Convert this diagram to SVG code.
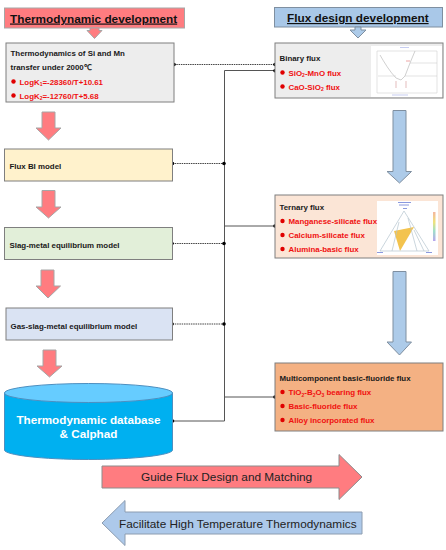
<svg xmlns="http://www.w3.org/2000/svg" width="446" height="550" viewBox="0 0 446 550">
<defs><linearGradient id="bar" x1="0" y1="0" x2="0" y2="1"><stop offset="0" stop-color="#f4b6a0"/><stop offset=".35" stop-color="#f0e27a"/><stop offset=".65" stop-color="#9fe0c8"/><stop offset="1" stop-color="#b9a6ee"/></linearGradient></defs>
<style>
.b{stroke:#7f7f7f;stroke-width:1}
.r{fill:#ff7c80;stroke:#a6a6a6;stroke-width:1}
.u{fill:#adcbe9;stroke:#7f8fa0;stroke-width:1}
text{font-family:"Liberation Sans",Arial,sans-serif}
.t{font-size:7.9px;font-weight:bold;fill:#1a1a1a}
.e{font-size:7.9px;font-weight:bold;fill:#f01010}
.h{font-size:11.8px;font-weight:bold;fill:#111;text-decoration:underline}
.a{font-size:11.8px;fill:#222}
.d{fill:#e00000;stroke:none}
.k{fill:#000;stroke:none}
.s{fill:none;stroke:#555;stroke-width:1}
.p{fill:none;stroke:#444;stroke-width:1;stroke-dasharray:1.5 .8}
</style>
<g id="connectors">
<path class="s" d="M224.500 70.500H275M224.500 70.500V421M172.500 421H224.500M224.500 226H275M224.500 397H275"/>
<path class="p" d="M174 64.500H275M172.500 163.500H224M172.500 243.500H224M172.500 324H224"/>
<g class="k"><circle cx="174" cy="64.500" r="1.800"/><circle cx="275" cy="64.500" r="1.800"/><circle cx="275" cy="70.700" r="1.800"/><circle cx="172.500" cy="163.500" r="1.800"/><circle cx="224" cy="163.500" r="1.800"/><circle cx="172" cy="243.500" r="1.800"/><circle cx="224" cy="243.500" r="1.800"/><circle cx="172" cy="324" r="1.800"/><circle cx="224" cy="324" r="1.800"/><circle cx="172.500" cy="421" r="1.800"/><circle cx="275" cy="226" r="1.800"/><circle cx="275" cy="397" r="1.800"/></g>
</g>
<g id="title-left"><rect x="4.500" y="8" width="180" height="20" class="r"/><text class="h" x="10" y="22.500">Thermodynamic development</text></g>
<g id="title-right"><rect x="274.500" y="7.500" width="168" height="19.500" fill="#a9c8e8" stroke="#7f8fa0"/><text class="h" x="287" y="22">Flux design development</text></g>
<g id="flow-arrows">
<path class="r" d="M90 28H99V30.500H102L94.500 38.500L87 30.500H90Z"/>
<path class="r" d="M42 112H55V128H61L48.500 140L36 128H42Z"/>
<path class="r" d="M42 190.500H55V207H61L48.500 218L36 207H42Z"/>
<path class="r" d="M41 270H54V286H60.500L48 298L36 286H41Z"/>
<path class="r" d="M43 350H56V366H62L49.500 377L37 366H43Z"/>
<path class="u" d="M355 27H361V30H366L358 38L350 30H355Z"/>
<path class="u" d="M393 110.500H406V171.500H411.500L399.500 183L387 171.500H393Z"/>
<path class="u" d="M393 271.500H406V342H411.500L399.500 355L387 342H393Z"/>
</g>
<g id="box-thermo"><rect x="6" y="43" width="168" height="59" fill="#ededed" class="b"/>
<text class="t" x="10.500" y="56">Thermodynamics of Si and Mn</text><text class="t" x="10.500" y="70">transfer under 2000℃</text>
<circle class="d" cx="13.500" cy="81.500" r="2.200"/><text class="e" x="19.500" y="84.500">LogK<tspan font-size="5" dy="1.500">1</tspan><tspan dy="-1.500">=-28360/T+10.61</tspan></text>
<circle class="d" cx="13.500" cy="95.500" r="2.200"/><text class="e" x="19.500" y="98.500">LogK<tspan font-size="5" dy="1.500">2</tspan><tspan dy="-1.500">=-12760/T+5.68</tspan></text></g>
<g id="box-bi"><rect x="4.500" y="149" width="168" height="32" fill="#fff2cc" class="b"/><text class="t" x="9.500" y="169">Flux BI model</text></g>
<g id="box-slag"><rect x="4.500" y="227.500" width="168" height="32" fill="#e2efd9" class="b"/><text class="t" x="9.500" y="248">Slag-metal equilibrium model</text></g>
<g id="box-gas"><rect x="6" y="308" width="166.500" height="32" fill="#dae3f3" class="b"/><text class="t" x="10.500" y="328.500">Gas-slag-metal equilibrium model</text></g>
<g id="database">
<path d="M4.500 393V450C4.500 455 42 459.500 88.500 459.500S172.500 455 172.500 450V393Z" fill="#00b0f0" stroke="#4d8fc0"/>
<ellipse cx="88.500" cy="393" rx="84" ry="9.500" fill="#66ccff" stroke="#4d8fc0"/>
<text x="88.500" y="424" text-anchor="middle" font-size="11.700" font-weight="bold" fill="#fff">Thermodynamic database</text>
<text x="88.500" y="438" text-anchor="middle" font-size="11.700" font-weight="bold" fill="#fff">&amp; Calphad</text></g>
<g id="box-binary"><rect x="275" y="43" width="168" height="55" fill="#ededed" class="b"/>
<rect x="371" y="46" width="71" height="51" fill="#fff"/>
<text class="t" x="279.500" y="61">Binary flux</text>
<circle class="d" cx="282.500" cy="72.500" r="2.200"/><text class="e" x="288.500" y="75.500">SiO<tspan font-size="5" dy="1.500">2</tspan><tspan dy="-1.500">-MnO flux</tspan></text>
<circle class="d" cx="282.500" cy="86.500" r="2.200"/><text class="e" x="288.500" y="89.500">CaO-SiO<tspan font-size="5" dy="1.500">2</tspan><tspan dy="-1.500"> flux</tspan></text>
<path d="M377 51H437V93H377Z" fill="none" stroke="#d0d0d0" stroke-width=".6"/>
<path d="M380 55C384 62 390 72 396 78L401 80L405 76L410 63L415 51" fill="none" stroke="#bbb" stroke-width=".7"/>
<path d="M410 63H437M378 76H396M405 76H437" fill="none" stroke="#c4c4c4" stroke-width=".5"/>
<path d="M396 81V88M406 81V88" stroke="#d8a0a0" stroke-width=".7"/>
<path d="M406 61H410" stroke="#e89090" stroke-width=".8"/>
<path d="M400 47.500H409M392 95H408" stroke="#b9c0ee" stroke-width=".8"/></g>
<g id="box-ternary"><rect x="275" y="195" width="168" height="63" fill="#fbe5d6" class="b"/>
<rect x="377" y="201" width="61" height="54" fill="#fff"/>
<text class="t" x="279.500" y="210">Ternary  flux</text>
<circle class="d" cx="282.500" cy="221" r="2.200"/><text class="e" x="288.500" y="224">Manganese-silicate flux</text>
<circle class="d" cx="282.500" cy="235" r="2.200"/><text class="e" x="288.500" y="238">Calcium-silicate flux</text>
<circle class="d" cx="282.500" cy="249" r="2.200"/><text class="e" x="288.500" y="252">Alumina-basic flux</text>
<path d="M394 231L414 227L400 251Z" fill="#f3c34e"/>
<path d="M404 211L380 251H429ZM399 222L392 251M408 218L417 251M414 230L424 251" fill="none" stroke="#b5c4cf" stroke-width=".7"/>
<path d="M398 202.500H411M399 205H409M403 208.500H407M377 252.500H383M426 252.500H432" stroke="#6d7fd6" stroke-width=".8"/>
<rect x="433" y="212" width="2.500" height="29" fill="url(#bar)"/></g>
<g id="box-multi"><rect x="275" y="363" width="168" height="68" fill="#f4b183" class="b"/>
<text class="t" x="279.500" y="381">Multicomponent basic-fluoride flux</text>
<circle class="d" cx="282.500" cy="392" r="2.200"/><text class="e" x="288.500" y="395">TiO<tspan font-size="5" dy="1.500">2</tspan><tspan dy="-1.500">-B</tspan><tspan font-size="5" dy="1.500">2</tspan><tspan dy="-1.500">O</tspan><tspan font-size="5" dy="1.500">3</tspan><tspan dy="-1.500"> bearing flux</tspan></text>
<circle class="d" cx="282.500" cy="406" r="2.200"/><text class="e" x="288.500" y="409">Basic-fluoride flux</text>
<circle class="d" cx="282.500" cy="420" r="2.200"/><text class="e" x="288.500" y="423">Alloy incorporated flux</text></g>
<g id="guide-arrow"><path d="M102 466H339V454.500L362 477L339 499.500V488H102Z" fill="#ff7c80" stroke="#8c8c8c"/><text class="a" x="141" y="481">Guide Flux Design and Matching</text></g>
<g id="facilitate-arrow"><path d="M362 512H125V500.500L102 523L125 545.500V534H362Z" fill="#adc9ea" stroke="#8c9cb0"/><text class="a" x="119" y="528">Facilitate High Temperature Thermodynamics</text></g>
</svg>
